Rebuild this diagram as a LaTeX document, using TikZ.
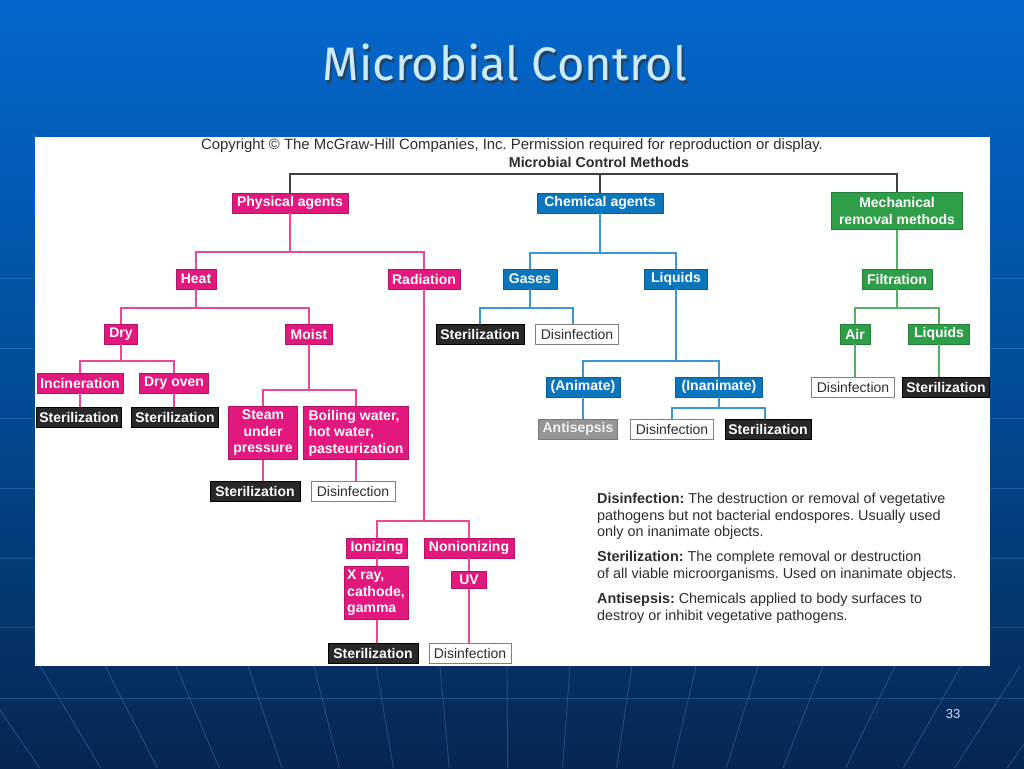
\documentclass[tikz,border=0pt]{standalone}
\usepackage{fontspec}
\setmainfont{Liberation Sans}
\newfontfamily\titlefont{Fira Sans}
\usetikzlibrary{calc}
\frenchspacing
\definecolor{pinkbox}{RGB}{226,24,127}
\definecolor{pinkline}{RGB}{232,72,150}
\definecolor{bluebox}{RGB}{12,118,188}
\definecolor{blueline}{RGB}{60,150,210}
\definecolor{greenbox}{RGB}{46,158,72}
\definecolor{greenline}{RGB}{80,178,100}
\definecolor{darkbox}{RGB}{40,40,40}
\definecolor{graybox}{RGB}{150,150,150}
\definecolor{txtgray}{RGB}{45,45,45}
\definecolor{bgtop}{RGB}{3,104,204}
\definecolor{bgmid}{RGB}{2,76,152}
\definecolor{bgbot}{RGB}{6,38,80}
\definecolor{titlecol}{RGB}{205,235,255}
\definecolor{bgline}{RGB}{90,150,220}
\tikzset{
  box/.style={inner sep=0pt, minimum height=20pt, font=\fontsize{14}{16.5}\selectfont\bfseries, text=white, line width=0.8pt},
  pk/.style={box, fill=pinkbox, draw=pinkbox!80!black},
  bl/.style={box, fill=bluebox, draw=bluebox!80!black},
  gr/.style={box, fill=greenbox, draw=greenbox!80!black},
  bk/.style={box, fill=darkbox, draw=black},
  gy/.style={box, fill=graybox, draw=graybox!80!black, text=white!90!gray},
  wh/.style={box, fill=white, draw=gray, text=txtgray, font=\fontsize{14}{16.5}\selectfont},
  pl/.style={draw=pinkline, line width=1.8pt},
  bln/.style={draw=blueline, line width=1.8pt},
  gln/.style={draw=greenline, line width=1.8pt},
  tl/.style={draw=black!75, line width=1.6pt},
  legend/.style={anchor=north west, inner sep=0pt, align=left, text=txtgray, font=\fontsize{14.4}{16.5}\selectfont},
}
\begin{document}
\begin{tikzpicture}[x=1pt,y=-1pt]
\useasboundingbox (0,0) rectangle (1024,768);
% background
\shade[top color=bgtop, bottom color=bgbot, middle color=bgmid] (0,0) rectangle (1024,768);
\foreach \yy in {278,348,418,488,558,627,698}
  \draw[bgline, opacity=0.3, line width=0.8pt] (0,\yy) -- (1024,\yy);
\foreach \xx in {-30,40,105,176,248,314,376,440,507,570,632,696,758,823,895,961,1020,1080}
  \draw[bgline, opacity=0.35, line width=0.8pt] (\xx,666) -- ({512+(\xx-512)*0.8715},768);
% title
\node[anchor=base, text=black!80, opacity=0.7, font=\titlefont\fontsize{47}{54}\selectfont] at (507,83) {Microbial Control};
\node[anchor=base, text=titlecol, font=\titlefont\fontsize{47}{54}\selectfont] (title) at (505,81) {Microbial Control};
\node[anchor=base, text=white!85!blue, font=\fontsize{13}{15}\selectfont] (pnum) at (953,718) {33};
% panel
\fill[white] (35,137) rectangle (990,666);
\node[text=txtgray, font=\fontsize{14.9}{16}\selectfont] (copy) at (512,146) {Copyright \textcopyright\ The McGraw-Hill Companies, Inc. Permission required for reproduction or display.};
\node[text=txtgray, font=\fontsize{14.3}{16}\selectfont\bfseries] (mcm) at (599,162.5) {Microbial Control Methods};
% physical
\node[pk, minimum width=116pt] (phys) at (290,203) {Physical agents};
\node[pk, minimum width=40pt] (heat) at (196,279) {Heat};
\node[pk, minimum width=72pt] (rad) at (424,279) {Radiation};
\node[pk, minimum width=33pt] (dry) at (121,334) {Dry};
\node[pk, minimum width=47pt] (moist) at (309,334) {Moist};
\node[pk, minimum width=86pt] (incin) at (80,383) {Incineration};
\node[pk, minimum width=69pt] (dryoven) at (174,383) {Dry oven};
\node[pk, minimum width=69pt, minimum height=53pt, align=center] (steam) at (263,433) {Steam\\under\\pressure};
\node[pk, minimum width=105pt, minimum height=53pt, align=left] (boil) at (356,433) {Boiling water,\\hot water,\\pasteurization};
\node[pk, minimum width=61pt] (ioniz) at (377,548) {Ionizing};
\node[pk, minimum width=90pt] (nonion) at (469,548) {Nonionizing};
\node[pk, minimum width=64pt, minimum height=53pt, align=left] (xray) at (376,593) {X ray,\\cathode,\\gamma};
\node[pk, minimum width=35pt, minimum height=17pt] (uv) at (469,580) {UV};
\node[bk, minimum width=85pt] (s1) at (79,417) {Sterilization};
\node[bk, minimum width=87pt] (s2) at (175,417) {Sterilization};
\node[bk, minimum width=90pt] (s3) at (255,491) {Sterilization};
\node[wh, minimum width=84pt] (d1) at (353,491) {Disinfection};
\node[bk, minimum width=90pt] (s6) at (373,653) {Sterilization};
\node[wh, minimum width=82pt] (d5) at (470,653) {Disinfection};
% chemical
\node[bl, minimum width=126pt] (chem) at (600,203) {Chemical agents};
\node[bl, minimum width=54pt] (gases) at (530,279) {Gases};
\node[bl, minimum width=63pt] (liquids) at (676,279) {Liquids};
\node[bk, minimum width=88pt] (s4) at (480,334) {Sterilization};
\node[wh, minimum width=83pt] (d2) at (577,334) {Disinfection};
\node[bl, minimum width=74pt] (anim) at (583,387) {(Animate)};
\node[bl, minimum width=87pt] (inanim) at (719,387) {(Inanimate)};
\node[gy, minimum width=79pt] (antis) at (578,429) {Antisepsis};
\node[wh, minimum width=83pt] (d3) at (672,429) {Disinfection};
\node[bk, minimum width=86pt] (s5) at (768,429) {Sterilization};
% mechanical
\node[gr, minimum width=131pt, minimum height=37pt, align=center] (mech) at (897,211) {Mechanical\\removal methods};
\node[gr, minimum width=70pt] (filt) at (897,279) {Filtration};
\node[gr, minimum width=30pt] (air) at (855,334) {Air};
\node[gr, minimum width=61pt] (liq2) at (939,334) {Liquids};
\node[wh, minimum width=83pt] (d4) at (853,387) {Disinfection};
\node[bk, minimum width=87pt] (s7) at (946,387) {Sterilization};
% legend
\node[legend] (leg1) at (597,493) {\textbf{Disinfection:} The destruction or removal of vegetative\\pathogens but not bacterial endospores. Usually used\\only on inanimate objects.};
\node[legend] (leg2) at (597,551) {\textbf{Sterilization:} The complete removal or destruction\\of all viable microorganisms. Used on inanimate objects.};
\node[legend] (leg3) at (597,593) {\textbf{Antisepsis:} Chemicals applied to body surfaces to\\destroy or inhibit vegetative pathogens.};
% connectors: top
\draw[tl] (phys.north) |- (mech.north |- 0,174) -- (mech.north);
\draw[tl] (chem.north) -- (chem.north |- 0,174);
% physical connectors
\draw[pl] (phys.south) -- (phys.south |- 0,252);
\draw[pl] (heat.north) |- (rad.north |- 0,252) -- (rad.north);
\draw[pl] (heat.south) -- (heat.south |- 0,308);
\draw[pl] (dry.north) |- (moist.north |- 0,308) -- (moist.north);
\draw[pl] (dry.south) -- (dry.south |- 0,361);
\draw[pl] (incin.north) |- (dryoven.north |- 0,361) -- (dryoven.north);
\draw[pl] (incin.south) -- (incin.south |- s1.north);
\draw[pl] (dryoven.south) -- (dryoven.south |- s2.north);
\draw[pl] (moist.south) -- (moist.south |- 0,390);
\draw[pl] (steam.north) |- (boil.north |- 0,390) -- (boil.north);
\draw[pl] (steam.south) -- (steam.south |- s3.north);
\draw[pl] (boil.south) -- (boil.south |- d1.north);
\draw[pl] (rad.south) -- (rad.south |- 0,521);
\draw[pl] (ioniz.north) |- (nonion.north |- 0,521) -- (nonion.north);
\draw[pl] (ioniz.south) -- (ioniz.south |- xray.north);
\draw[pl] (ioniz.south |- xray.south) -- (ioniz.south |- s6.north);
\draw[pl] (nonion.south) -- (uv.north);
\draw[pl] (uv.south) -- (uv.south |- d5.north);
% chemical connectors
\draw[bln] (chem.south) -- (chem.south |- 0,253);
\draw[bln] (gases.north) |- (liquids.north |- 0,253) -- (liquids.north);
\draw[bln] (gases.south) -- (gases.south |- 0,308);
\draw[bln] (s4.north) |- ([xshift=-4pt]d2.north |- 0,308) -- ([xshift=-4pt]d2.north);
\draw[bln] (liquids.south) -- (liquids.south |- 0,361);
\draw[bln] (anim.north) |- (inanim.north |- 0,361) -- (inanim.north);
\draw[bln] (anim.south) -- (anim.south |- antis.north);
\draw[bln] (inanim.south) -- (inanim.south |- 0,408);
\draw[bln] (d3.north) |- ([xshift=-3pt]s5.north |- 0,408) -- ([xshift=-3pt]s5.north);
% mechanical connectors
\draw[gln] (mech.south) -- (filt.north);
\draw[gln] (filt.south) -- (filt.south |- 0,308);
\draw[gln] (air.north) |- (liq2.north |- 0,308) -- (liq2.north);
\draw[gln] (air.south) -- (air.south |- d4.north);
\draw[gln] (liq2.south) -- (liq2.south |- s7.north);
\end{tikzpicture}
\end{document}
